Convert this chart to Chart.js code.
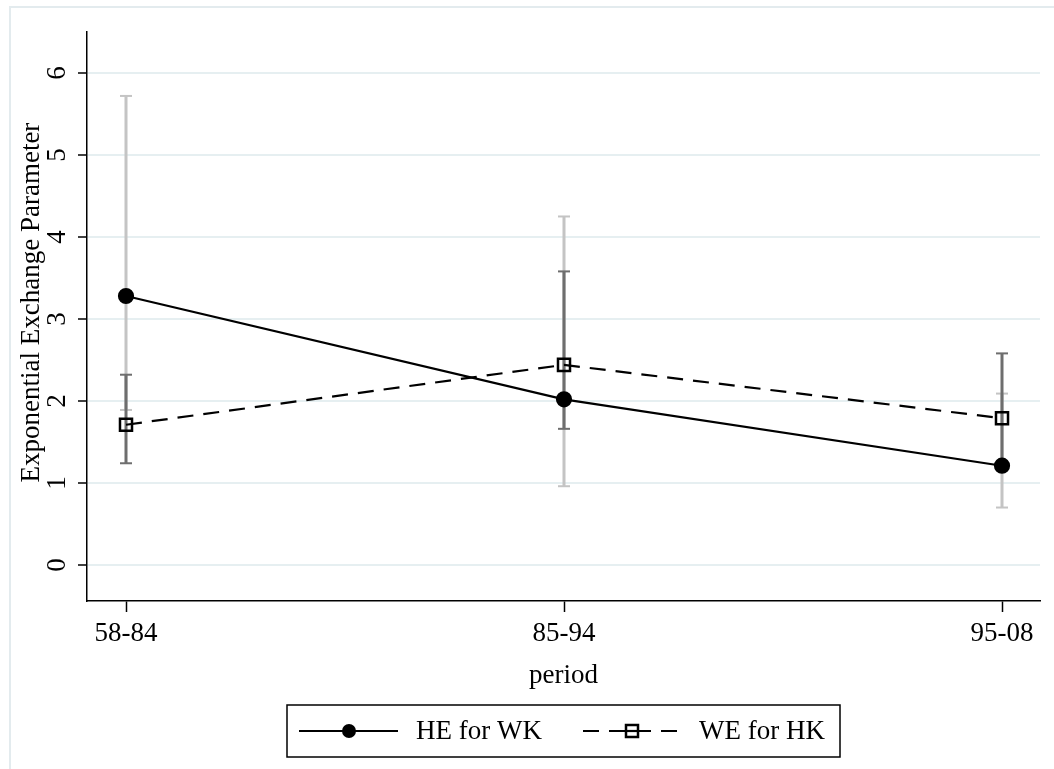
<!DOCTYPE html>
<html>
<head>
<meta charset="utf-8">
<script src="https://cdn.jsdelivr.net/npm/chart.js@4.4.0/dist/chart.umd.min.js"></script>
<style>
  html, body { margin: 0; padding: 0; background: #ffffff; }
  #wrap { width: 1054px; height: 769px; position: relative; }
</style>
</head>
<body>
<div id="wrap"><canvas id="c" width="1054" height="769"></canvas></div>
<script>
// Periods and estimates with confidence bounds
const periods = ['58-84', '85-94', '95-08'];
const heForWk = [3.28, 2.02, 1.21];
const heLow   = [1.89, 0.96, 0.70];
const heHigh  = [5.72, 4.25, 2.09];
const weForHk = [1.71, 2.44, 1.79];
const weLow   = [1.24, 1.66, 1.23];
const weHigh  = [2.32, 3.58, 2.58];
const yTicks  = [0, 1, 2, 3, 4, 5, 6];
const seriesNames = ['HE for WK', 'WE for HK'];
const xTitle = 'period';
const yTitle = 'Exponential Exchange Parameter';

const FONT = '"Liberation Serif", "Times New Roman", serif';
const FS = 27;
const VSTRETCH = 1.05; // slightly tall serif glyphs

const toPoints = vals => vals.map((v, i) => ({ x: i + 1, y: v }));
// vertical segments separated by gaps so one dataset holds all bars
const toBars = (lo, hi) => {
  const out = [];
  lo.forEach((l, i) => {
    out.push({ x: i + 1, y: l }, { x: i + 1, y: hi[i] }, { x: i + 1, y: null });
  });
  return out;
};

const ciStyle = color => ({
  type: 'line',
  borderColor: color,
  borderWidth: 3,
  pointStyle: 'line',
  pointRadius: 6,
  pointBorderWidth: 2,
  pointBorderColor: color,
  pointBackgroundColor: color,
  spanGaps: false,
  fill: false
});

function drawText(ctx, text, x, y, rotated, align) {
  ctx.save();
  ctx.translate(x, y);
  if (rotated) ctx.rotate(-Math.PI / 2);
  ctx.scale(1, VSTRETCH);
  ctx.font = FS + 'px ' + FONT;
  ctx.fillStyle = '#000';
  ctx.textAlign = align || 'center';
  ctx.textBaseline = 'middle';
  ctx.fillText(text, 0, 0);
  ctx.restore();
}

const frame = {
  id: 'frame',
  beforeDraw(chart) {
    const ctx = chart.ctx;
    ctx.save();
    ctx.fillStyle = '#ffffff';
    ctx.fillRect(0, 0, chart.width, chart.height);
    ctx.strokeStyle = '#e3ebee';
    ctx.lineWidth = 2;
    ctx.beginPath();
    ctx.moveTo(10, chart.height);
    ctx.lineTo(10, 7);
    ctx.lineTo(chart.width, 7);
    ctx.stroke();
    ctx.restore();
  }
};

// axis labels and titles placed from the scales
const axisText = {
  id: 'axisText',
  afterDraw(chart) {
    const ctx = chart.ctx;
    const xs = chart.scales.x, ys = chart.scales.y;
    const ca = chart.chartArea;
    yTicks.forEach(v => drawText(ctx, String(v), ys.right - 29, ys.getPixelForValue(v), true));
    periods.forEach((p, i) => drawText(ctx, p, xs.getPixelForValue(i + 1), xs.top + 33, false));
    drawText(ctx, xTitle, (ca.left + ca.right) / 2, xs.top + 75, false);
    drawText(ctx, yTitle, ys.left + 32, ys.getPixelForValue(3.2), true);
  }
};

// boxed legend with line + marker keys
const legendBox = {
  id: 'legendBox',
  afterDraw(chart) {
    const ctx = chart.ctx;
    const ca = chart.chartArea;
    const cx = (ca.left + ca.right) / 2;
    const w = 553, h = 52;
    const x0 = Math.round(cx - w / 2), y0 = 705;
    const my = y0 + h / 2;
    ctx.save();
    ctx.strokeStyle = '#000';
    ctx.lineWidth = 1.5;
    ctx.strokeRect(x0, y0, w, h);
    ctx.fillStyle = '#000';

    // solid key
    ctx.lineWidth = 2.2;
    ctx.setLineDash([]);
    ctx.beginPath();
    ctx.moveTo(x0 + 12, my);
    ctx.lineTo(x0 + 111, my);
    ctx.stroke();
    ctx.beginPath();
    ctx.arc(x0 + 62, my, 7, 0, Math.PI * 2);
    ctx.fill();
    drawText(ctx, seriesNames[0], x0 + 129, my + 1, false, 'left');

    // dashed key with hollow square
    ctx.setLineDash([16, 10]);
    ctx.beginPath();
    ctx.moveTo(x0 + 296, my);
    ctx.lineTo(x0 + 396, my);
    ctx.stroke();
    ctx.setLineDash([]);
    ctx.beginPath();
    ctx.moveTo(x0 + 339, my);
    ctx.lineTo(x0 + 351, my);
    ctx.stroke();
    ctx.lineWidth = 2.5;
    ctx.strokeRect(x0 + 339, my - 6, 12, 12);
    drawText(ctx, seriesNames[1], x0 + 412, my + 1, false, 'left');
    ctx.restore();
  }
};

new Chart(document.getElementById('c'), {
  type: 'line',
  data: {
    datasets: [
      {
        label: seriesNames[0],
        data: toPoints(heForWk),
        borderColor: '#000',
        borderWidth: 2.2,
        pointStyle: 'circle',
        pointRadius: 7,
        pointBackgroundColor: '#000',
        pointBorderColor: '#000',
        order: 0
      },
      {
        label: seriesNames[1],
        data: toPoints(weForHk),
        borderColor: '#000',
        borderWidth: 2.2,
        borderDash: [16, 10],
        pointStyle: 'rect',
        pointRadius: 8.5,
        pointBorderWidth: 2.5,
        pointBackgroundColor: 'rgba(0,0,0,0)',
        pointBorderColor: '#000',
        order: 1
      },
      Object.assign({ label: 'WE CI', data: toBars(weLow, weHigh), order: 2 }, ciStyle('#6e6e6e')),
      Object.assign({ label: 'HE CI', data: toBars(heLow, heHigh), order: 3 }, ciStyle('#c4c4c4'))
    ]
  },
  options: {
    responsive: false,
    animation: false,
    events: [],
    layout: { padding: { top: 32, right: 14, bottom: 0, left: 0 } },
    plugins: {
      legend: { display: false },
      tooltip: { enabled: false }
    },
    scales: {
      x: {
        type: 'linear',
        min: 1 - 39 / 438,
        max: 3 + 38 / 438,
        afterBuildTicks: s => { s.ticks = periods.map((p, i) => ({ value: i + 1 })); },
        afterFit: s => { s.height = 168; },
        ticks: { display: false },
        grid: { drawOnChartArea: false, tickColor: '#000', tickLength: 11, tickWidth: 1.5 },
        border: { display: true, color: '#000', width: 1.5 }
      },
      y: {
        min: -0.44,
        max: 6.5,
        afterBuildTicks: s => { s.ticks = yTicks.map(v => ({ value: v })); },
        afterFit: s => { s.width = 87; },
        ticks: { display: false },
        grid: { color: '#e6eff1', lineWidth: 2, tickColor: '#000', tickLength: 9, tickWidth: 1.5 },
        border: { display: true, color: '#000', width: 1.5 }
      }
    }
  },
  plugins: [frame, axisText, legendBox]
});
</script>
</body>
</html>
